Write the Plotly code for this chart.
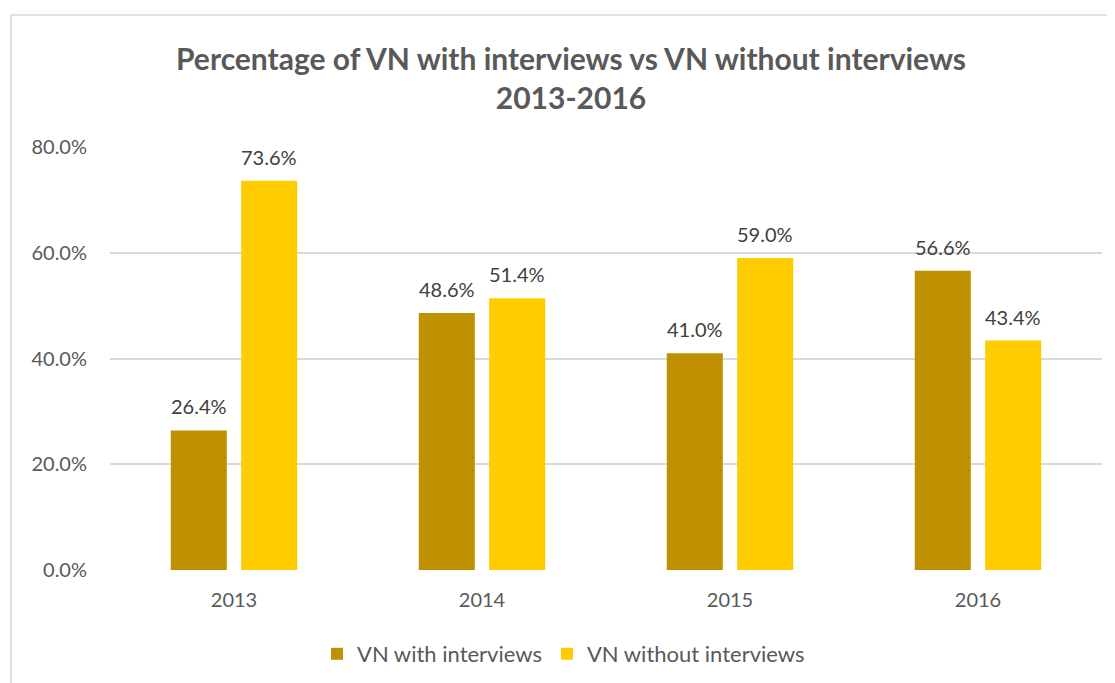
import plotly.graph_objects as go

years = ["2013", "2014", "2015", "2016"]
with_interviews = [26.4, 48.6, 41.0, 56.6]
without_interviews = [73.6, 51.4, 59.0, 43.4]
series_names = ["VN with interviews", "VN without interviews"]
y_ticks = [0, 20, 40, 60, 80]
y_tick_labels = ["0.0%", "20.0%", "40.0%", "60.0%", "80.0%"]

colors = ["#BF9000", "#FFCC00"]
font = "Lato, 'Open Sans', sans-serif"
idx = list(range(len(years)))
bw = 0.226
sep = 0.142

# page body has an 8px margin; work in screen coordinates and subtract it
OFF = 8
W, H = 1115 - OFF, 683 - OFF
L = 110 - OFF
R = W - (1102 - OFF)
T = 147 - OFF
B = H - (570 - OFF)
pw, ph = W - L - R, H - T - B

def px(xs):
    return (xs - OFF - L) / pw

def py(ys):
    return (H - B - (ys - OFF)) / ph

fig = go.Figure()
for s, (name, vals, col) in enumerate(zip(series_names, [with_interviews, without_interviews], colors)):
    center = -sep if s == 0 else sep
    fig.add_trace(go.Bar(
        x=idx, y=vals, name=name, marker_color=col, marker_line_width=0,
        width=bw, offset=center - bw / 2,
    ))
    for i, v in zip(idx, vals):
        fig.add_annotation(x=i + center, y=v, text=f"{v:.1f}%", showarrow=False,
                           yanchor="middle", yshift=24,
                           font=dict(family=font, size=20, color="#404040"))

fig.add_shape(type="rect", xref="paper", yref="paper",
              x0=px(11), x1=px(1140), y0=py(720), y1=py(15),
              line=dict(color="#D9D9D9", width=1.5), fillcolor="rgba(0,0,0,0)", layer="below")

fig.update_layout(
    width=W, height=H,
    margin=dict(l=L, r=R, t=T, b=B, autoexpand=False),
    paper_bgcolor="white", plot_bgcolor="white",
    title=dict(text="Percentage of VN with interviews vs VN without interviews<br>2013-2016",
               x=((180 + 962) / 2 - OFF) / W, xanchor="center", y=1 - (70 - OFF) / H, yanchor="middle",
               font=dict(family=font, size=30, color="#595959", weight="bold")),
    xaxis=dict(range=[-0.5, 3.5], tickvals=idx, ticktext=years, showgrid=False,
               zeroline=False, showline=False, ticks="", ticklabelstandoff=16,
               tickfont=dict(family=font, size=20, color="#595959")),
    yaxis=dict(range=[0, 80], tickvals=y_ticks, ticktext=y_tick_labels,
               showgrid=True, gridcolor="#D9D9D9", gridwidth=1.5, zeroline=False,
               showline=False, ticks="", ticklabelstandoff=22,
               tickfont=dict(family=font, size=20, color="#595959")),
    showlegend=True,
    legend=dict(orientation="h", x=px(317), xanchor="left",
                y=py(654), yanchor="middle",
                font=dict(family=font, size=22, color="#595959"),
                itemwidth=30, tracegroupgap=0),
)

fig.write_html("out.html")
